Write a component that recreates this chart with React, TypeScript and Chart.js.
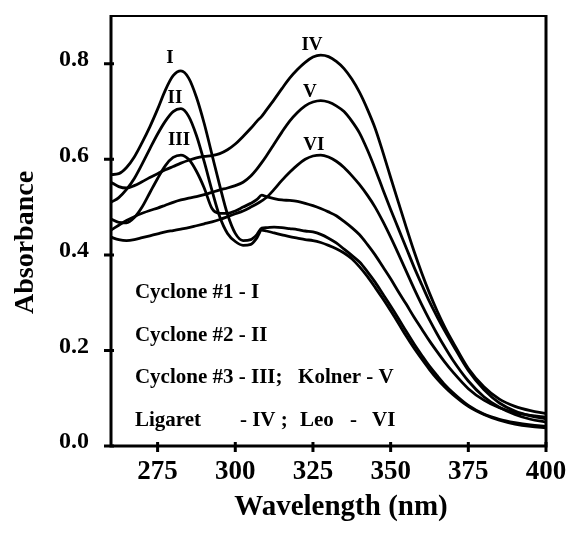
import React, { useEffect, useRef } from "react";
import { Chart, registerables } from "chart.js";

Chart.register(...registerables);

const FONT = "'Liberation Serif', 'Times New Roman', serif";

// Wavelength grid (nm)
const wavelengths = [
  260, 262.5, 265, 267.5, 270, 272.5, 275, 277.5, 280, 282.5, 285, 287.5, 290, 292.5, 295, 297.5, 300, 302.5, 305,
  307, 308.5,
  310, 312.5, 315, 317.5, 320, 322.5, 325, 327.5, 330, 332.5, 335, 337.5, 340, 342.5, 345, 347.5, 350, 352.5, 355,
  357.5, 360, 362.5, 365, 367.5, 370,
  375, 380, 385, 390, 395, 400,
];

// Cyclone #1 - I
const cyclone1 = [
  0.568, 0.57, 0.583, 0.605, 0.635, 0.668, 0.705, 0.745, 0.775, 0.785, 0.77, 0.73, 0.675, 0.61, 0.545, 0.485, 0.445, 0.43, 0.432,
  0.443, 0.456,
  0.457, 0.458, 0.457, 0.455, 0.453, 0.45, 0.448, 0.443, 0.435, 0.425, 0.412, 0.399, 0.385, 0.365, 0.343, 0.318, 0.293, 0.267, 0.24,
  0.214, 0.19, 0.167, 0.147, 0.128, 0.112,
  0.085, 0.067, 0.056, 0.049, 0.044, 0.041,
];

// Cyclone #2 - II
const cyclone2 = [
  0.51, 0.52, 0.537, 0.56, 0.59, 0.622, 0.653, 0.68, 0.7, 0.706, 0.69, 0.65, 0.595, 0.535, 0.48, 0.445, 0.428, 0.42, 0.422,
  0.436, 0.452,
  0.45, 0.446, 0.442, 0.438, 0.435, 0.432, 0.43, 0.426, 0.42, 0.413, 0.404, 0.392, 0.375, 0.355, 0.332, 0.308, 0.283, 0.257, 0.23,
  0.205, 0.182, 0.16, 0.14, 0.123, 0.108,
  0.083, 0.066, 0.054, 0.046, 0.041, 0.038,
];

// Cyclone #3 - III
const cyclone3 = [
  0.475, 0.468, 0.467, 0.478, 0.5, 0.53, 0.56, 0.587, 0.604, 0.609, 0.6, 0.575, 0.54, 0.497, 0.487, 0.487, 0.492, 0.5, 0.508,
  0.516, 0.525,
  0.522, 0.518, 0.515, 0.514, 0.512, 0.508, 0.503, 0.497, 0.49, 0.482, 0.47, 0.457, 0.442, 0.422, 0.4, 0.375, 0.35, 0.323, 0.297,
  0.27, 0.245, 0.22, 0.197, 0.175, 0.155,
  0.12, 0.096, 0.08, 0.07, 0.064, 0.06,
];

// Ligaret - IV
const ligaret = [
  0.552, 0.543, 0.54, 0.545, 0.553, 0.562, 0.57, 0.578, 0.585, 0.592, 0.598, 0.603, 0.606, 0.608, 0.612, 0.62, 0.632, 0.648, 0.665,
  0.68, 0.69,
  0.703, 0.725, 0.748, 0.77, 0.788, 0.803, 0.814, 0.818, 0.815, 0.805, 0.79, 0.768, 0.74, 0.705, 0.665, 0.615, 0.562, 0.51, 0.458,
  0.408, 0.362, 0.32, 0.282, 0.248, 0.218,
  0.162, 0.124, 0.098, 0.083, 0.074, 0.068,
];

// Kolner - V
const kolner = [
  0.452, 0.462, 0.472, 0.48, 0.487, 0.493, 0.498, 0.504, 0.51, 0.515, 0.519, 0.522, 0.526, 0.531, 0.536, 0.54, 0.545, 0.552, 0.565,
  0.58, 0.593,
  0.607, 0.632, 0.657, 0.68, 0.698, 0.712, 0.72, 0.723, 0.72, 0.712, 0.7, 0.68, 0.655, 0.62, 0.58, 0.537, 0.495, 0.455, 0.415,
  0.375, 0.338, 0.302, 0.27, 0.24, 0.212,
  0.158, 0.118, 0.09, 0.073, 0.063, 0.057,
];

// Leo - VI
const leo = [
  0.437, 0.432, 0.43, 0.432, 0.436, 0.44, 0.444, 0.448, 0.451, 0.454, 0.457, 0.461, 0.465, 0.469, 0.474, 0.48, 0.486, 0.492, 0.5,
  0.507, 0.513,
  0.52, 0.537, 0.556, 0.573, 0.588, 0.6, 0.607, 0.609, 0.605, 0.596, 0.583, 0.566, 0.547, 0.525, 0.5, 0.47, 0.437, 0.402, 0.366,
  0.33, 0.296, 0.264, 0.234, 0.206, 0.18,
  0.136, 0.103, 0.081, 0.066, 0.056, 0.05,
];

const seriesNames = ["Cyclone #1", "Cyclone #2", "Cyclone #3", "Ligaret", "Kolner", "Leo"];
const seriesValues = [cyclone1, cyclone2, cyclone3, ligaret, kolner, leo];

const xTicks = [275, 300, 325, 350, 375, 400];
const yTicks = [0, 0.2, 0.4, 0.6, 0.8];

// Curve labels (text, wavelength, absorbance of baseline)
const curveLabels = ["I", "II", "III", "IV", "V", "VI"];
const curveLabelX = [279.0, 280.6, 281.9, 324.7, 324.0, 325.3];
const curveLabelY = [0.801, 0.718, 0.63, 0.829, 0.73, 0.62];

// Key text pieces inside the plot (text, wavelength of left edge, absorbance of baseline)
const keyTexts = ["Cyclone #1 - I", "Cyclone #2 - II", "Cyclone #3 - III;", "Kolner - V", "Ligaret", "- IV ;", "Leo", "-", "VI"];
const keyX = [267.7, 267.7, 267.7, 320.2, 267.7, 301.5, 320.8, 336.9, 344.0];
const keyY = [0.309, 0.219, 0.132, 0.132, 0.042, 0.042, 0.042, 0.042, 0.042];

const xTitle = "Wavelength (nm)";
const yTitle = "Absorbance";

const zeroPadding = (s: any) => {
  s.paddingLeft = 0;
  s.paddingRight = 0;
  s.paddingTop = 0;
  s.paddingBottom = 0;
};

const decorPlugin = {
  id: "decor",
  afterDraw(chart: any) {
    const { ctx, chartArea: a, scales } = chart;
    const xs = scales.x;
    const ys = scales.y;
    ctx.save();
    ctx.strokeStyle = "#000";
    ctx.fillStyle = "#000";
    ctx.lineCap = "butt";

    // frame
    ctx.lineWidth = 3;
    ctx.beginPath();
    ctx.moveTo(a.left, a.top - 1);
    ctx.lineTo(a.left, a.bottom + 1.5);
    ctx.moveTo(a.left - 1.5, a.bottom);
    ctx.lineTo(a.right + 1.5, a.bottom);
    ctx.moveTo(a.right, a.bottom);
    ctx.lineTo(a.right, a.top - 1);
    ctx.stroke();
    ctx.lineWidth = 2;
    ctx.beginPath();
    ctx.moveTo(a.left, a.top);
    ctx.lineTo(a.right, a.top);
    ctx.stroke();

    // tick marks crossing the axes
    ctx.lineWidth = 3;
    ctx.beginPath();
    xTicks.forEach((v) => {
      const px = xs.getPixelForValue(v);
      ctx.moveTo(px, a.bottom - 4);
      ctx.lineTo(px, a.bottom + 6);
    });
    yTicks.forEach((v) => {
      const py = ys.getPixelForValue(v);
      ctx.moveTo(a.left - 7, py);
      ctx.lineTo(a.left + 3, py);
    });
    ctx.stroke();

    // curve labels
    ctx.font = `bold 19px ${FONT}`;
    ctx.textAlign = "center";
    ctx.textBaseline = "alphabetic";
    curveLabels.forEach((t, i) => {
      ctx.fillText(t, xs.getPixelForValue(curveLabelX[i]), ys.getPixelForValue(curveLabelY[i]));
    });

    // key text
    ctx.font = `bold 21px ${FONT}`;
    ctx.textAlign = "left";
    keyTexts.forEach((t, i) => {
      ctx.fillText(t, xs.getPixelForValue(keyX[i]), ys.getPixelForValue(keyY[i]));
    });

    // axis titles
    ctx.font = `bold 29px ${FONT}`;
    ctx.textAlign = "center";
    ctx.fillText(xTitle, a.left + 230, a.bottom + 69);

    ctx.font = `bold 28px ${FONT}`;
    ctx.translate(a.left - 78, (a.top + a.bottom) / 2 + 11.5);
    ctx.rotate(-Math.PI / 2);
    ctx.textAlign = "center";
    ctx.fillText(yTitle, 0, 0);
    ctx.restore();
  },
};

export default function App() {
  const ref = useRef<HTMLCanvasElement | null>(null);

  useEffect(() => {
    document.body.style.margin = "0";
    const canvas = ref.current;
    if (!canvas) return;
    const chart = new Chart(canvas, {
      type: "line",
      data: {
        datasets: seriesNames.map((name, si) => ({
          label: name,
          data: wavelengths.map((w, i) => ({ x: w, y: seriesValues[si][i] })),
          borderColor: "#000",
          borderWidth: 2.8,
          pointRadius: 0,
          fill: false,
          cubicInterpolationMode: "monotone" as const,
        })),
      },
      options: {
        responsive: false,
        animation: false,
        devicePixelRatio: 1,
        layout: { padding: { top: 16, right: 21, left: 0, bottom: 0 } },
        plugins: { legend: { display: false }, tooltip: { enabled: false } },
        scales: {
          x: {
            type: "linear",
            min: 260,
            max: 400,
            afterBuildTicks: (s: any) => {
              s.ticks = xTicks.map((v) => ({ value: v }));
            },
            afterFit: (s: any) => {
              s.height = 93;
              zeroPadding(s);
            },
            grid: { display: false, drawTicks: false },
            border: { display: false },
            ticks: {
              color: "#000",
              font: { family: FONT, size: 27, weight: "bold" },
              padding: 10,
              maxRotation: 0,
              autoSkip: false,
            },
          },
          y: {
            type: "linear",
            min: 0,
            max: 0.9,
            afterBuildTicks: (s: any) => {
              s.ticks = yTicks.map((v) => ({ value: v }));
            },
            afterFit: (s: any) => {
              s.width = 111;
              zeroPadding(s);
            },
            grid: { display: false, drawTicks: false },
            border: { display: false },
            ticks: {
              color: "#000",
              font: { family: FONT, size: 24, weight: "bold" },
              padding: 22,
              labelOffset: -4,
              autoSkip: false,
              callback: (v: any) => Number(v).toFixed(1),
            },
          },
        },
      },
      plugins: [decorPlugin],
    });
    return () => chart.destroy();
  }, []);

  return (
    <div style={{ width: 567, height: 539, background: "#fff" }}>
      <canvas ref={ref} width={567} height={539} style={{ display: "block" }} />
    </div>
  );
}
